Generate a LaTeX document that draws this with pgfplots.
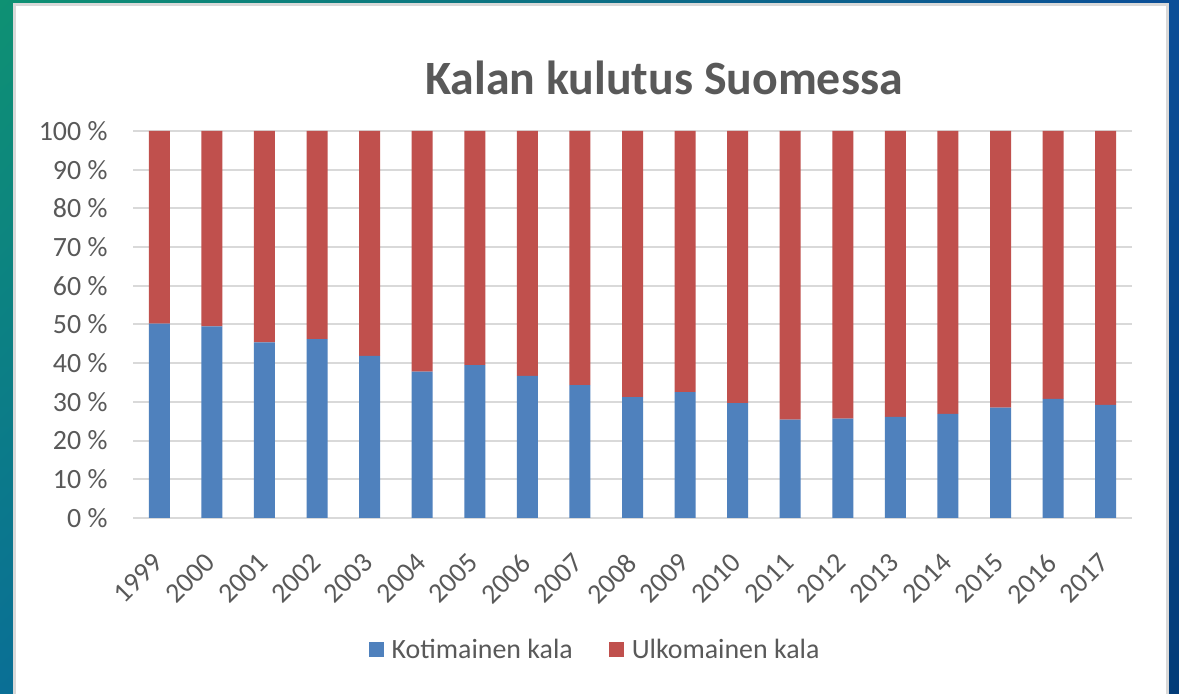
\documentclass[border=0pt]{standalone}
\usepackage{pgfplots}
\pgfplotsset{compat=1.18}
\usetikzlibrary{shadings}
\usepackage{fontspec}
\setmainfont{Carlito}
\definecolor{txt}{HTML}{595959}
\definecolor{gridc}{HTML}{D9D9D9}
\definecolor{kblue}{HTML}{4F81BD}
\definecolor{kred}{HTML}{C0504D}
\definecolor{bgul}{HTML}{0E9173}
\definecolor{bgll}{HTML}{0A6F96}
\definecolor{bgur}{HTML}{0B4E98}
\definecolor{bglr}{HTML}{033C78}
\begin{document}
\begin{tikzpicture}[x=1bp,y=1bp]
\useasboundingbox (0,0) rectangle (1179,694);
\shade[upper left=bgul, lower left=bgll, upper right=bgur, lower right=bglr] (0,0) rectangle (1179,694);
\fill[white, draw=gridc, line width=3bp] (14,-10) rectangle (1167,689.5);
\node[text=txt, font=\bfseries\fontsize{48}{52}\selectfont] at (664,616) {Kalan kulutus Suomessa};
\begin{axis}[
  at={(133bp,176bp)}, anchor=south west,
  scale only axis, width=999bp, height=387bp,
  ybar stacked, bar width=21bp,
  xmin=-0.5, xmax=18.5, ymin=0, ymax=100,
  xtick={0,...,18},
  xticklabels={1999,2000,2001,2002,2003,2004,2005,2006,2007,2008,2009,2010,2011,2012,2013,2014,2015,2016,2017},
  ytick={0,10,...,100},
  yticklabels={0 \%,10 \%,20 \%,30 \%,40 \%,50 \%,60 \%,70 \%,80 \%,90 \%,100 \%},
  ymajorgrids, grid style={draw=gridc, line width=2bp},
  axis x line*=bottom, axis y line*=left,
  x axis line style={draw=gridc, line width=2bp, -},
  y axis line style={draw=none},
  major tick length=0pt,
  tick label style={font=\fontsize{28}{32}\selectfont, text=txt},
  /pgf/number format/assume math mode=true,
  y tick label style={xshift=-22bp},
  x tick label style={rotate=45, anchor=north east, xshift=-26bp, yshift=-15bp},
  legend columns=2,
  legend style={at={(0.4625,-0.341)}, anchor=center, draw=none, fill=none,
    font=\fontsize{28}{32}\selectfont, text=txt,
    /tikz/every odd column/.append style={column sep=6bp},
    /tikz/every even column/.append style={column sep=34bp}},
  legend image code/.code={\fill[#1] (0bp,-7.5bp) rectangle (15bp,7.5bp);},
]
\addplot[fill=kblue, draw=none] coordinates {
(0,50.2) (1,49.5) (2,45.4) (3,46.2) (4,41.9) (5,37.8) (6,39.5) (7,36.7) (8,34.3) (9,31.2)
(10,32.5) (11,29.7) (12,25.4) (13,25.7) (14,26.1) (15,26.9) (16,28.5) (17,30.8) (18,29.2)};
\addlegendentry{Kotimainen kala}
\addplot[fill=kred, draw=none] coordinates {
(0,49.8) (1,50.5) (2,54.6) (3,53.8) (4,58.1) (5,62.2) (6,60.5) (7,63.3) (8,65.7) (9,68.8)
(10,67.5) (11,70.3) (12,74.6) (13,74.3) (14,73.9) (15,73.1) (16,71.5) (17,69.2) (18,70.8)};
\addlegendentry{Ulkomainen kala}
\end{axis}
\end{tikzpicture}
\end{document}
